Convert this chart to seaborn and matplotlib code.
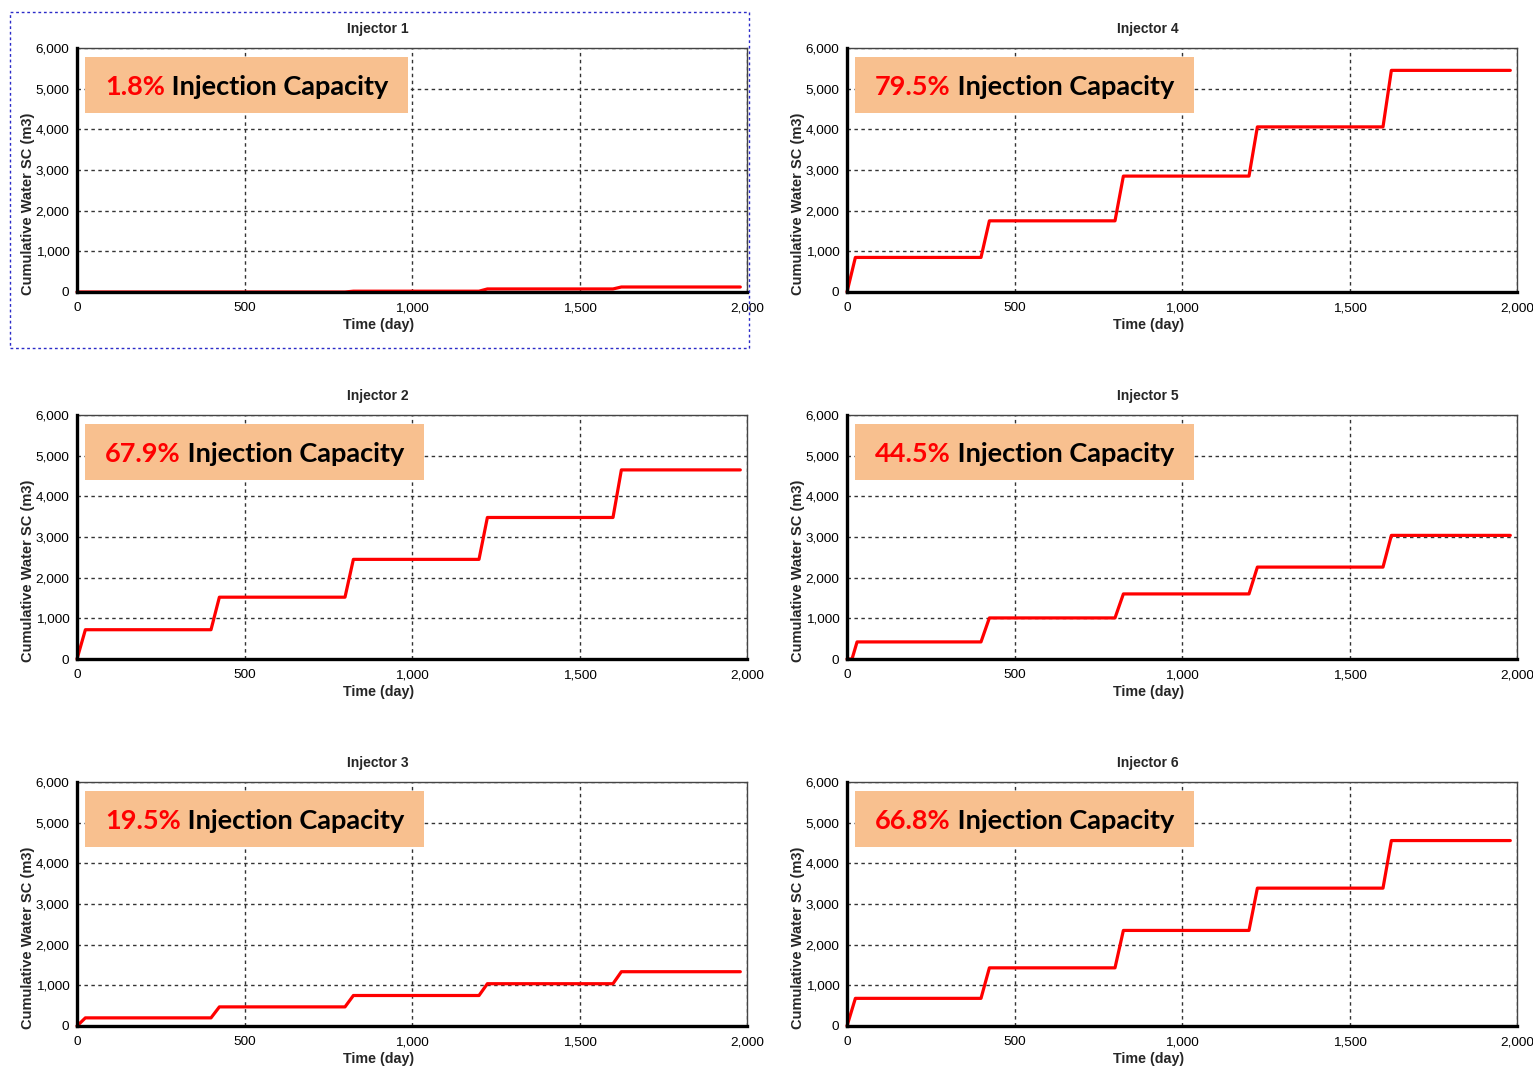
import matplotlib
matplotlib.use("Agg")
import matplotlib.pyplot as plt
import seaborn as sns
import pandas as pd
from matplotlib.patches import Rectangle

# ---- data -------------------------------------------------------------
days = [0, 25, 400, 425, 800, 825, 1200, 1225, 1600, 1625, 1980]
days_inj5 = [0, 15, 30, 400, 425, 800, 825, 1200, 1225, 1600, 1625, 1980]

inj1 = [0, 0, 0, 0, 0, 20, 20, 75, 75, 123, 123]
inj2 = [0, 720, 720, 1520, 1520, 2450, 2450, 3480, 3480, 4650, 4650]
inj3 = [0, 200, 200, 470, 470, 750, 750, 1040, 1040, 1335, 1335]
inj4 = [0, 850, 850, 1750, 1750, 2850, 2850, 4060, 4060, 5450, 5450]
inj5 = [0, 0, 420, 420, 1010, 1010, 1600, 1600, 2260, 2260, 3040, 3040]
inj6 = [0, 680, 680, 1430, 1430, 2350, 2350, 3390, 3390, 4560, 4560]

injector_names = ["Injector 1", "Injector 2", "Injector 3",
                  "Injector 4", "Injector 5", "Injector 6"]
capacity_pct = ["1.8%", "67.9%", "19.5%", "79.5%", "44.5%", "66.8%"]

x_ticks = [0, 500, 1000, 1500, 2000]
x_tick_labels = ["0", "500", "1,000", "1,500", "2,000"]
y_ticks = [0, 1000, 2000, 3000, 4000, 5000, 6000]
y_tick_labels = ["0", "1,000", "2,000", "3,000", "4,000", "5,000", "6,000"]

series = [
    (days, inj1), (days, inj2), (days, inj3),
    (days, inj4), (days_inj5, inj5), (days, inj6),
]

# ---- styling ----------------------------------------------------------
sns.set_theme(style="white")
plt.rcParams["font.family"] = ["Liberation Sans", "DejaVu Sans"]

W, H = 1533, 1068
fig = plt.figure(figsize=(W / 100, H / 100), dpi=100)

ax_left_px = [77, 847]
ax_top_px = [48, 415, 782]
ax_w_px, ax_h_px = 670, 244

tick_font = 9.7
label_font = 10
box_color = "#F8C08F"
cap_font = 19.5

axes = []
for i, name in enumerate(injector_names):
    col, row = divmod(i, 3)
    lp, tp = ax_left_px[col], ax_top_px[row]
    ax = fig.add_axes([lp / W, 1 - (tp + ax_h_px) / H, ax_w_px / W, ax_h_px / H])
    axes.append(ax)

    d, v = series[i]
    df = pd.DataFrame({"Time (day)": d, "Cumulative Water SC (m3)": v})
    sns.lineplot(data=df, x="Time (day)", y="Cumulative Water SC (m3)",
                 ax=ax, color="#FF0000", linewidth=2.3, zorder=5,
                 clip_on=False)

    ax.set_xlim(0, 2000)
    ax.set_ylim(0, 6000)
    ax.set_xticks(x_ticks)
    ax.set_xticklabels(x_tick_labels, fontsize=tick_font)
    ax.set_yticks(y_ticks)
    ax.set_yticklabels(y_tick_labels, fontsize=tick_font)
    ax.tick_params(axis="both", direction="out", length=5, width=2.2,
                   color="black", labelcolor="black")
    ax.tick_params(axis="y", pad=0.5)
    ax.tick_params(axis="x", pad=2.5)
    ax.set_xlabel("")
    ax.set_ylabel("")

    ax.grid(True, which="major", color="#333333", linestyle=(0, (2.5, 2.5)),
            linewidth=1.0)
    ax.set_axisbelow(True)

    for side in ["left", "bottom"]:
        ax.spines[side].set_color("black")
        ax.spines[side].set_linewidth(2.4)
        ax.spines[side].set_zorder(6)
    for side in ["top", "right"]:
        ax.spines[side].set_color("#444444")
        ax.spines[side].set_linewidth(1.0)

    # panel texts placed relative to the axes frame
    fig.text((lp + 301) / W, 1 - (tp - 19) / H, name, ha="center",
             va="center", fontsize=label_font, fontweight="bold")
    fig.text((lp + 302) / W, 1 - (tp + ax_h_px + 33) / H, "Time (day)",
             ha="center", va="center", fontsize=label_font + 0.3,
             fontweight="bold")
    fig.text((lp - 49) / W, 1 - (tp + 156) / H, "Cumulative Water SC (m3)",
             ha="center", va="center", rotation=90, fontsize=label_font + 0.5,
             fontweight="bold")

    # capacity label: red percentage followed by black caption
    base_y = 1 - (95 - 48) / ax_h_px
    t_red = ax.text(28 / ax_w_px, base_y, capacity_pct[i], transform=ax.transAxes,
                    color="#FF0000", fontsize=cap_font, fontweight="bold",
                    family=["Lato", "DejaVu Sans"], ha="left", va="baseline",
                    zorder=8)
    t_blk = ax.annotate(" Injection Capacity", xy=(1, 0), xycoords=t_red,
                        color="black", fontsize=cap_font, fontweight="bold",
                        family=["Lato", "DejaVu Sans"], ha="left",
                        va="bottom", zorder=8, annotation_clip=False)
    ax._cap_texts = (t_red, t_blk)

# size the label boxes from the rendered text
fig.canvas.draw()
renderer = fig.canvas.get_renderer()
for ax in axes:
    t_red, t_blk = ax._cap_texts
    e1 = t_red.get_window_extent(renderer)
    e2 = t_blk.get_window_extent(renderer)
    x0_disp = e1.x0 - 20
    x1_disp = e2.x1 + 20
    inv = ax.transAxes.inverted()
    ax0, _ = inv.transform((x0_disp, 0))
    ax1, _ = inv.transform((x1_disp, 0))
    y_top = 1 - (57 - 48) / ax_h_px
    y_bot = 1 - (113 - 48) / ax_h_px
    ax.add_patch(Rectangle((ax0, y_bot), ax1 - ax0, y_top - y_bot,
                           transform=ax.transAxes, facecolor=box_color,
                           edgecolor="none", zorder=7))

# dotted selection frame around the first panel
fig.patches.append(Rectangle((10 / W, 1 - 348 / H), 739 / W, 336 / H,
                             transform=fig.transFigure, fill=False,
                             edgecolor="#2B2BC8", linewidth=1.0,
                             linestyle=(0, (2, 2))))

fig.savefig("out.png", dpi=100)
